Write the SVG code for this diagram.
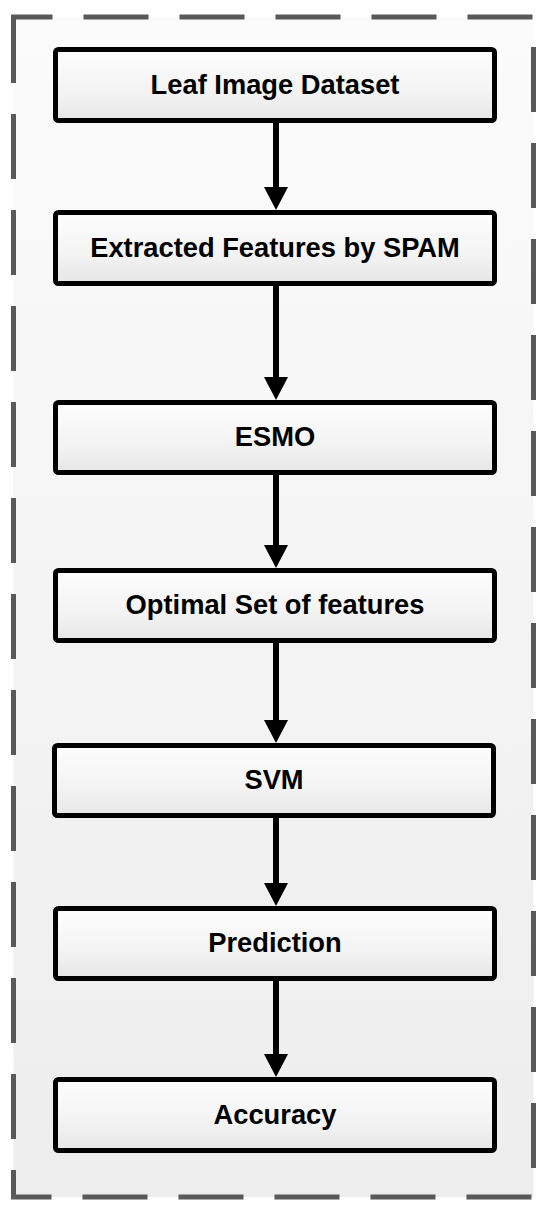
<svg xmlns="http://www.w3.org/2000/svg" width="560" height="1220" viewBox="0 0 560 1220">
  <style>
    .box { stroke: #000; stroke-width: 5; fill: url(#boxGrad); }
    .lbl { font-family: "Liberation Sans", Arial, sans-serif; font-weight: bold; font-size: 27.3px; fill: #000; text-anchor: middle; }
    .conn { stroke: #000; stroke-width: 6; fill: none; marker-end: url(#arrow); }
  </style>
  <defs>
    <linearGradient id="bgGrad" x1="0" y1="0" x2="0" y2="1">
      <stop offset="0" stop-color="#fbfbfb"/>
      <stop offset="1" stop-color="#ededed"/>
    </linearGradient>
    <linearGradient id="boxGrad" x1="0" y1="0" x2="0" y2="1">
      <stop offset="0" stop-color="#fdfdfd"/>
      <stop offset="0.6" stop-color="#f3f3f3"/>
      <stop offset="1" stop-color="#e6e6e6"/>
    </linearGradient>
    <marker id="arrow" markerUnits="userSpaceOnUse" markerWidth="24" markerHeight="24" refX="0" refY="12" orient="auto">
      <path d="M0,0 L23,12 L0,24 Z" fill="#000"/>
    </marker>
  </defs>
  <rect width="560" height="1220" fill="#fff"/>
  <g id="frame">
    <rect x="13.5" y="17" width="520" height="1180" fill="url(#bgGrad)"/>
    <path d="M13.5,43 L13.5,17 L533.5,17 L533.5,1197 L13.5,1197 Z" fill="none" stroke="#595959" stroke-width="5" stroke-dasharray="65 31"/>
  </g>
  <g id="connectors">
    <line class="conn" x1="276" y1="123" x2="276" y2="187"/>
    <line class="conn" x1="276" y1="286" x2="276" y2="377"/>
    <line class="conn" x1="276" y1="475" x2="276" y2="545"/>
    <line class="conn" x1="276" y1="643" x2="276" y2="720"/>
    <line class="conn" x1="276" y1="818" x2="276" y2="883"/>
    <line class="conn" x1="276" y1="981" x2="276" y2="1054"/>
  </g>
  <g id="node1">
    <rect class="box" x="55.5" y="49.5" width="439" height="71" rx="3"/>
    <text class="lbl" x="275" y="94">Leaf Image Dataset</text>
  </g>
  <g id="node2">
    <rect class="box" x="55.5" y="212.5" width="439" height="71" rx="3"/>
    <text class="lbl" x="275" y="257">Extracted Features by SPAM</text>
  </g>
  <g id="node3">
    <rect class="box" x="55.5" y="402.5" width="439" height="70" rx="3"/>
    <text class="lbl" x="275" y="446">ESMO</text>
  </g>
  <g id="node4">
    <rect class="box" x="55.5" y="570.5" width="439" height="70" rx="3"/>
    <text class="lbl" x="275" y="614">Optimal Set of features</text>
  </g>
  <g id="node5">
    <rect class="box" x="54.5" y="745.5" width="439" height="70" rx="3"/>
    <text class="lbl" x="274" y="789">SVM</text>
  </g>
  <g id="node6">
    <rect class="box" x="55.5" y="908.5" width="439" height="70" rx="3"/>
    <text class="lbl" x="275" y="952">Prediction</text>
  </g>
  <g id="node7">
    <rect class="box" x="55.5" y="1079.5" width="439" height="71" rx="3"/>
    <text class="lbl" x="275" y="1124">Accuracy</text>
  </g>
</svg>
